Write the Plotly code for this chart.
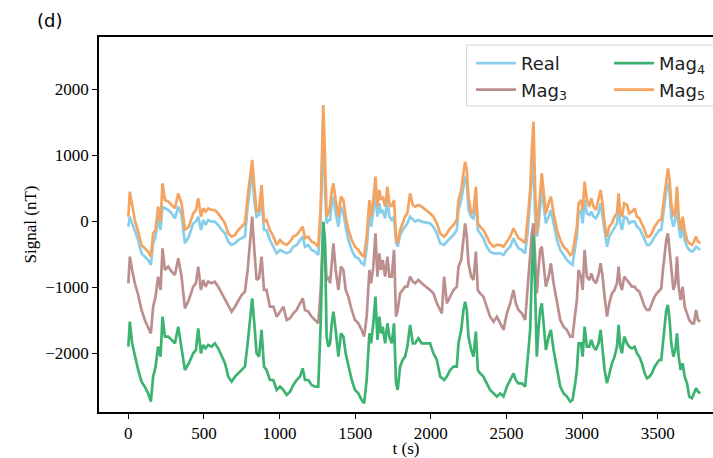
import plotly.graph_objects as go

# time axis (s)
t = [0, 10, 25, 43, 65, 87, 109, 131, 149, 164, 180, 197, 213, 226, 242, 264, 286, 308, 330, 352,
     374, 400, 429, 447, 462, 480, 495, 511, 528, 550, 572, 594, 617, 639, 661, 683, 705, 727, 749, 771,
     789, 804, 819, 833, 848, 864, 881, 897, 914, 936,
     959, 981, 1003, 1025, 1047, 1069, 1091, 1113, 1135, 1153, 1168, 1190, 1212, 1234, 1256, 1272, 1283, 1289, 1300, 1311,
     1323, 1334, 1345, 1356, 1371, 1389, 1406, 1422, 1437, 1455, 1477, 1499, 1521, 1543, 1559, 1576, 1594, 1605, 1620, 1634,
     1647, 1660, 1671, 1682, 1698, 1713, 1726, 1742, 1757, 1770, 1781, 1797, 1814, 1830, 1845, 1863, 1881, 1896, 1918, 1940,
     1995, 2017, 2040, 2062, 2073, 2088, 2106, 2128, 2150, 2172, 2183, 2201, 2216, 2227, 2238, 2249, 2267, 2282, 2298, 2311,
     2326, 2348, 2370, 2392, 2415, 2437, 2459, 2481, 2503, 2525, 2547, 2562, 2580, 2602, 2624, 2642, 2657, 2668, 2679, 2690,
     2701, 2712, 2723, 2734, 2745, 2761, 2779, 2794, 2812, 2834, 2856, 2878, 2900, 2922, 2937, 2955,
     2966, 2977, 2993, 3004, 3017, 3032, 3048, 3061, 3076, 3092, 3109, 3123, 3136, 3149, 3165, 3180, 3198, 3215, 3231, 3242,
     3253, 3264, 3279, 3297, 3312, 3330, 3348, 3363, 3379, 3396, 3414, 3429, 3445, 3462, 3480, 3495, 3511, 3524, 3535, 3546,
     3557, 3568, 3579, 3590, 3604, 3617, 3628, 3639, 3652, 3665, 3679, 3694, 3709, 3727, 3740, 3754, 3767, 3782]

real = [-86, 66, -35, -136, -288, -490, -540, -591, -666, -338, -237, 41, -136, 217, 192, 167, 116, 41, 217, 91,
        -338, -237, -35, -10, 66, -136, 15, -60, 15, -10, -10, -60, -136, -187, -313, -363, -338, -288, -262, -237,
        217, 495, 748, 318, 66, 91, 318, -136, -136, -288,
        -389, -490, -439, -464, -490, -464, -389, -363, -288, -237, -389, -363, -439, -464, -515, 66, 975, 1480, 470, -35,
        15, 15, 268, 369, 116, -86, 217, 116, -86, -288, -439, -540, -565, -641, -666, -414, 116, -86, 142, 419,
        66, 268, 116, 167, 41, 318, 66, 15, 66, -313, -389, -212, -136, -86, -35, 66, 15, -10, 15, -10,
        -35, -86, -187, -338, -348, -363, -313, -262, -212, -136, 167, 318, 571, 672, 571, 167, 66, 41, 318, -136,
        -187, -262, -389, -464, -490, -490, -490, -515, -439, -389, -262, -338, -414, -439, -490, -136, 268, 672, 975, 66,
        -237, -86, 268, 520, 268, -35, 66, 167, -35, -288, -439, -515, -591, -641, -666, -389,
        -237, 116, 167, -35, 318, 116, 91, 142, 66, 41, 116, 268, 66, -187, -389, -237, -161, -86, -35, 192,
        -35, -136, 66, 41, -35, -10, -10, -86, -111, -187, -288, -363, -363, -313, -237, -187, -136, -136, 66, 268,
        470, 571, 419, 66, -86, 15, 318, -86, -262, -86, -288, -389, -439, -464, -439, -389, -414, -439]

mag3 = [-944, -540, -742, -944, -1121, -1348, -1500, -1601, -1702, -1298, -1146, -843, -1045, -414, -742, -692, -767, -818, -565, -843,
        -1323, -1197, -995, -944, -692, -1045, -894, -995, -919, -944, -919, -995, -1096, -1197, -1298, -1373, -1298, -1197, -1121, -1070,
        -742, -338, 66, -439, -894, -868, -540, -1045, -1045, -1298,
        -1298, -1449, -1373, -1298, -1500, -1474, -1399, -1348, -1247, -1171, -1348, -1373, -1449, -1500, -1550, -1045, -338, -35, -389, -894,
        -843, -944, -641, -338, -742, -1045, -692, -742, -1045, -1146, -1348, -1500, -1550, -1651, -1752, -1449, -742, -944, -692, -187,
        -843, -490, -742, -591, -843, -540, -843, -843, -439, -1449, -1348, -1096, -1045, -995, -995, -843, -919, -944, -894, -944,
        -1045, -1096, -1247, -1348, -1399, -843, -1247, -1146, -1045, -995, -692, -591, -237, -35, -237, -641, -843, -894, -464, -1045,
        -1096, -1146, -1298, -1449, -1525, -1449, -1550, -1651, -1399, -1247, -1045, -1247, -1348, -1399, -1500, -995, -490, -187, -35, -540,
        -1096, -742, -439, -389, -641, -995, -843, -641, -944, -1247, -1500, -1601, -1651, -1752, -1752, -1399,
        -1197, -742, -843, -1045, -439, -843, -894, -793, -894, -944, -818, -641, -843, -1146, -1449, -1247, -1096, -1045, -944, -692,
        -969, -1045, -843, -894, -944, -995, -995, -1045, -1070, -1171, -1298, -1348, -1348, -1247, -1146, -1096, -1045, -1020, -742, -540,
        -288, -187, -439, -742, -1045, -944, -540, -995, -1197, -995, -1298, -1399, -1500, -1550, -1550, -1348, -1500, -1525]

mag4 = [-1904, -1525, -1853, -2055, -2257, -2434, -2510, -2611, -2737, -2358, -2207, -1904, -2055, -1449, -1752, -1752, -1803, -1853, -1601, -1904,
        -2257, -2156, -2005, -1954, -1626, -2005, -1878, -1929, -1878, -1904, -1853, -1929, -2055, -2156, -2358, -2434, -2358, -2308, -2257, -2207,
        -1853, -1500, -1171, -1550, -2005, -2055, -1651, -2207, -2257, -2409,
        -2409, -2560, -2510, -2560, -2636, -2585, -2484, -2409, -2358, -2232, -2409, -2409, -2484, -2510, -2510, -1550, -288, -10, -288, -1752,
        -1904, -1853, -1550, -1373, -1651, -2055, -1702, -1752, -2005, -2207, -2409, -2560, -2611, -2712, -2762, -2409, -1702, -1853, -1550, -1146,
        -1803, -1449, -1702, -1601, -1853, -1550, -1752, -1853, -1550, -2459, -2560, -2207, -2106, -2055, -1904, -1575, -1853, -1853, -1777, -1853,
        -1853, -2005, -2106, -2358, -2383, -2409, -2358, -2257, -2207, -2207, -1853, -1651, -1348, -1222, -1348, -1752, -1954, -2055, -1676, -2257,
        -2308, -2358, -2459, -2560, -2611, -2661, -2611, -2661, -2510, -2409, -2308, -2409, -2459, -2459, -2510, -2055, -1651, -793, -237, -1045,
        -2055, -1651, -1348, -1247, -1550, -1954, -1752, -1651, -1954, -2257, -2510, -2611, -2661, -2737, -2712, -2459,
        -2257, -1853, -1853, -2055, -1601, -1904, -1904, -1803, -1904, -1954, -1853, -1651, -1954, -2257, -2459, -2308, -2156, -2055, -1904, -1575,
        -1904, -2005, -1752, -1853, -1904, -1929, -1904, -2005, -2055, -2156, -2308, -2383, -2358, -2308, -2207, -2156, -2106, -2106, -1853, -1550,
        -1348, -1272, -1500, -1853, -2055, -1954, -1702, -2055, -2257, -2156, -2358, -2459, -2661, -2686, -2611, -2535, -2585, -2611]

mag5 = [66, 445, 243, 15, -161, -363, -414, -464, -540, -187, -136, 217, -10, 571, 318, 293, 243, 192, 419, 268,
        -136, -86, 116, 167, 344, 66, 192, 142, 192, 167, 167, 116, 41, -35, -187, -237, -212, -136, -86, -35,
        369, 647, 925, 520, 142, 167, 546, -10, 15, -136,
        -237, -363, -288, -338, -363, -313, -237, -212, -136, -86, -262, -237, -313, -338, -389, 217, 1228, 1758, 975, 66,
        116, 217, 470, 571, 318, 66, 369, 318, 66, -136, -288, -389, -439, -515, -540, -237, 318, 66, 318, 672,
        217, 470, 318, 369, 217, 520, 268, 217, 318, -237, -338, -136, -35, 66, 116, 419, 243, 217, 243, 217,
        116, 66, -35, -187, -212, -237, -187, -111, -60, 15, 318, 470, 723, 899, 773, 369, 116, 142, 520, -35,
        -86, -136, -237, -338, -389, -363, -363, -389, -313, -237, -111, -187, -262, -288, -338, 66, 470, 1076, 1505, 470,
        -187, 116, 470, 723, 470, 116, 268, 369, 116, -136, -288, -389, -439, -515, -490, -237,
        -86, 268, 318, 167, 596, 318, 217, 344, 217, 167, 318, 470, 268, -35, -237, -86, -35, 66, 116, 419,
        116, 66, 268, 243, 116, 142, 192, 66, 41, -35, -136, -237, -237, -187, -86, -35, 15, 15, 217, 419,
        672, 798, 621, 268, 66, 167, 520, 66, -136, 66, -136, -288, -338, -363, -313, -237, -313, -338]

assert len(t) == len(real) == len(mag3) == len(mag4) == len(mag5)

names = ["Real", "Mag<sub>3</sub>", "Mag<sub>4</sub>", "Mag<sub>5</sub>"]
series = [real, mag3, mag4, mag5]
colors = ["#87CEEB", "#BC8F8F", "#3CB371", "#F4A460"]
legends = ["legend", "legend", "legend2", "legend2"]

fig = go.Figure()
for name, vals, col, lg in zip(names, series, colors, legends):
    fig.add_trace(go.Scatter(x=t, y=vals, mode="lines", name=name,
                             line=dict(color=col, width=2.7), legend=lg))

serif = "Liberation Serif, Times New Roman, serif"
sans = "DejaVu Sans, sans-serif"

L, R, T, B = 99, 713, 37, 412
W = R - L
H = B - T

legend_common = dict(yanchor="top", xanchor="left", bgcolor="rgba(0,0,0,0)", borderwidth=0,
                     font=dict(family=sans, size=18, color="#222222"),
                     tracegroupgap=0, itemwidth=40)

fig.update_layout(
    width=713, height=458,
    margin=dict(l=L, r=713 - R, t=T, b=458 - B, pad=0),
    paper_bgcolor="white", plot_bgcolor="white",
    font=dict(family=serif, size=17, color="black"),
    showlegend=True,
    legend=dict(x=(471 - L) / W, y=(B - 45) / H, **legend_common),
    legend2=dict(x=(609 - L) / W, y=(B - 45) / H, **legend_common),
    xaxis=dict(range=[-194, 3866], tick0=0, dtick=500, ticks="outside", ticklen=5,
               tickwidth=1.2, tickcolor="black", showline=True, linecolor="black",
               linewidth=1.6, mirror=True, showgrid=False, zeroline=False,
               title=dict(text="t (s)", standoff=3, font=dict(family=serif, size=17))),
    yaxis=dict(range=[-2894, 2788], tick0=0, dtick=1000, ticks="outside", ticklen=5,
               tickwidth=1.2, tickcolor="black", showline=True, linecolor="black",
               linewidth=1.6, mirror=False, showgrid=False, zeroline=False,
               title=dict(text="Signal (nT)", standoff=4, font=dict(family=serif, size=17))),
    shapes=[dict(type="rect", xref="paper", yref="paper",
                 x0=(466.5 - L) / W, x1=1.05, y0=(B - 106) / H, y1=(B - 45) / H,
                 line=dict(color="#d5d5d5", width=1), fillcolor="rgba(255,255,255,0.85)",
                 layer="above")],
    annotations=[dict(text="(d)", xref="paper", yref="paper", x=(35 - L) / W, y=(B - 20) / H,
                      xanchor="left", yanchor="middle", showarrow=False,
                      font=dict(family=sans, size=18, color="black"))],
)

fig.write_html("out.html")
